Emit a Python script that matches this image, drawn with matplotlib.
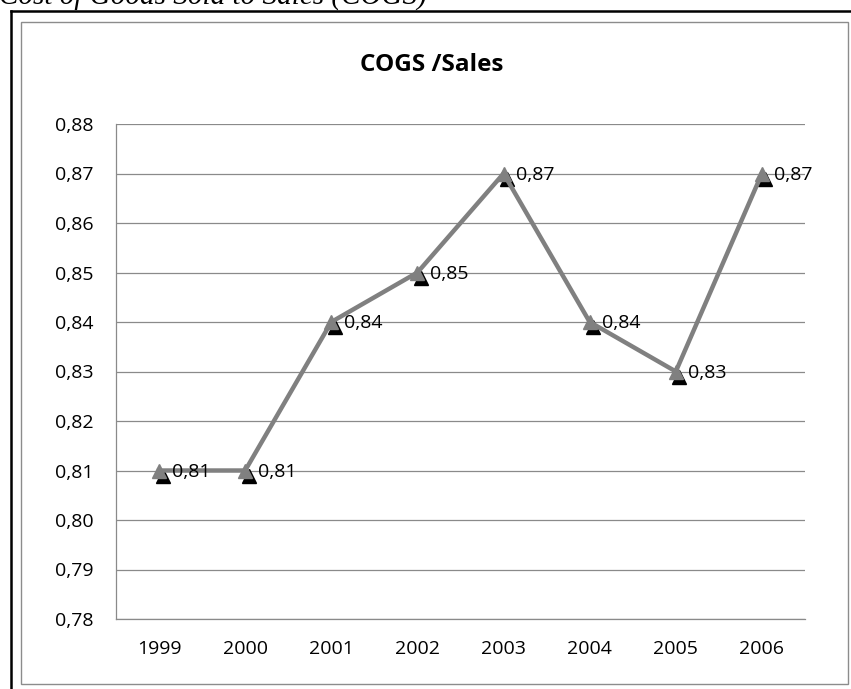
import matplotlib
matplotlib.use("Agg")
import matplotlib.pyplot as plt
from matplotlib.patches import Rectangle
from matplotlib.lines import Line2D
import matplotlib.transforms as mtransforms

years = ["1999", "2000", "2001", "2002", "2003", "2004", "2005", "2006"]
values = [0.81, 0.81, 0.84, 0.85, 0.87, 0.84, 0.83, 0.87]
yticks = [0.78, 0.79, 0.80, 0.81, 0.82, 0.83, 0.84, 0.85, 0.86, 0.87, 0.88]

W, H = 851, 689
fig = plt.figure(figsize=(W / 100, H / 100), dpi=100)

def fx(px):
    return px / W

def fy(py):
    return 1 - py / H

# caption cut at top
fig.text(fx(-1), fy(5), "Cost of Goods Sold to Sales (COGS)", family="Liberation Serif",
         style="italic", fontsize=21, va="baseline", ha="left", color="black")

# outer black border (left & top)
fig.add_artist(Line2D([fx(11), fx(11)], [fy(11), fy(H + 5)], color="black", lw=1.8,
                      transform=fig.transFigure))
fig.add_artist(Line2D([fx(11), fx(W + 5)], [fy(11), fy(11)], color="black", lw=1.8,
                      transform=fig.transFigure))
# inner gray chart frame
fig.add_artist(Rectangle((fx(21), fy(684)), fx(848) - fx(21), fy(22) - fy(684),
                         fill=False, edgecolor="#8c8c8c", lw=1.0, transform=fig.transFigure))

left, right, top, bottom = 116, 805, 124, 619
ax = fig.add_axes([fx(left), fy(bottom), fx(right) - fx(left), fy(top) - fy(bottom)])

x = list(range(len(years)))
# shadow markers
shadow = mtransforms.offset_copy(ax.transData, fig=fig, x=3.5, y=-5, units="dots")
ax.plot(x, values, linestyle="none", marker="^", markersize=10, color="black",
        transform=shadow, zorder=3, clip_on=False)
ax.plot(x, values, color="#808080", lw=3.2, marker="^", markersize=10,
        markerfacecolor="#808080", markeredgecolor="#808080", zorder=4, clip_on=False)

for xi, v in zip(x, values):
    ax.annotate(f"{v:.2f}".replace(".", ","), (xi, v), xytext=(9, -1),
                textcoords="offset points", ha="left", va="center",
                fontsize=14, family="Open Sans", color="black", zorder=5)

ax.set_xlim(-0.5, len(years) - 0.5)
ax.set_ylim(0.78, 0.88)
ax.set_yticks(yticks)
ax.set_yticklabels([f"{t:.2f}".replace(".", ",") for t in yticks], family="Open Sans",
                   fontsize=14)
ax.set_xticks(x)
ax.set_xticklabels(years, family="Open Sans", fontsize=14)
ax.tick_params(axis="y", length=0, pad=16)
ax.tick_params(axis="x", length=0, pad=15)
ax.grid(axis="y", color="#8a8a8a", lw=0.9)
ax.set_axisbelow(True)
for s in ["top", "right"]:
    ax.spines[s].set_visible(False)
for s in ["left", "bottom"]:
    ax.spines[s].set_color("#8a8a8a")
    ax.spines[s].set_linewidth(0.9)

fig.text(fx(432), fy(71), "COGS /Sales", family="Open Sans", fontweight="bold",
         fontsize=17.5, ha="center", va="baseline")

fig.savefig("out.png", dpi=100)
